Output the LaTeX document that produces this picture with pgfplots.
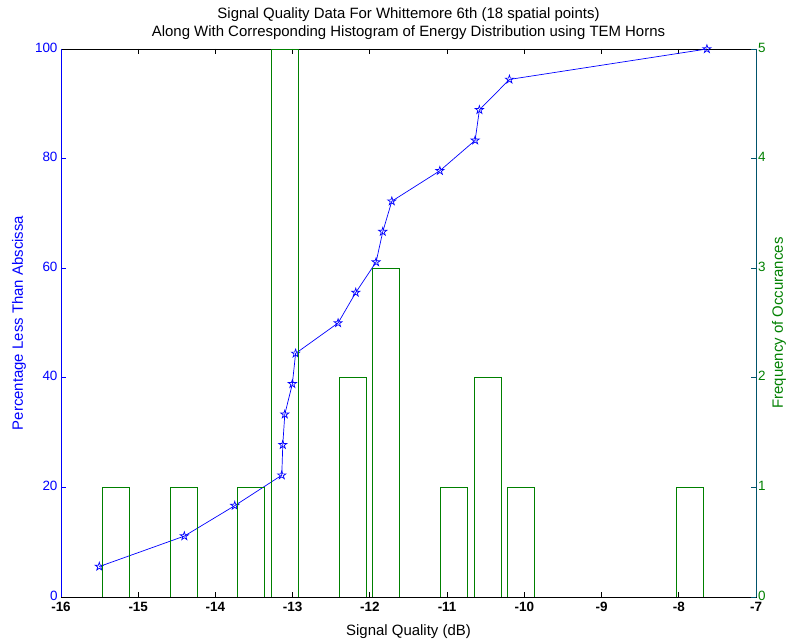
\documentclass[border=0pt]{standalone}
\usepackage{pgfplots}
\pgfplotsset{compat=1.18}
\usepackage{fontspec}
\setmainfont{Liberation Sans}
\definecolor{mblue}{rgb}{0,0,1}
\definecolor{mgreen}{rgb}{0,0.5,0}
\definecolor{mteal}{rgb}{0,0.33,0.42}
\pgfdeclareplotmark{pentagram}{%
  \pgfpathmoveto{\pgfpointpolar{90}{\pgfplotmarksize}}%
  \pgfpathlineto{\pgfpointpolar{126}{0.382*\pgfplotmarksize}}%
  \pgfpathlineto{\pgfpointpolar{162}{\pgfplotmarksize}}%
  \pgfpathlineto{\pgfpointpolar{198}{0.382*\pgfplotmarksize}}%
  \pgfpathlineto{\pgfpointpolar{234}{\pgfplotmarksize}}%
  \pgfpathlineto{\pgfpointpolar{270}{0.382*\pgfplotmarksize}}%
  \pgfpathlineto{\pgfpointpolar{306}{\pgfplotmarksize}}%
  \pgfpathlineto{\pgfpointpolar{342}{0.382*\pgfplotmarksize}}%
  \pgfpathlineto{\pgfpointpolar{18}{\pgfplotmarksize}}%
  \pgfpathlineto{\pgfpointpolar{54}{0.382*\pgfplotmarksize}}%
  \pgfpathclose
  \pgfusepathqstroke
}
\begin{document}
\begin{tikzpicture}
\pgfplotsset{
  every axis/.append style={
    scale only axis, width=695bp, height=548bp,
    xmin=-16, xmax=-7,
    tick align=inside, major tick length=5bp,
    /pgf/number format/assume math mode=true,
    tick label style={font=\fontsize{13.5}{16}\selectfont},
    label style={font=\fontsize{15}{18}\selectfont, inner sep=0pt},
    axis line style={line width=0.8bp},
    every tick/.style={line width=0.8bp},
  }
}
\begin{axis}[
  name=ax1,
  ymin=0, ymax=100,
  xtick={-16,-15,...,-7},
  ytick={0,20,...,100},
  xtick pos=both, ytick pos=left,
  axis line style={black},
  xtick style={black},
  ytick style={mblue},
  xticklabel style={font=\fontsize{13.5}{16}\selectfont\bfseries, text=black, yshift=-2bp},
  yticklabel style={text=mblue, yshift=1.5bp},
  clip=false,
  title={Signal Quality Data For Whittemore 6th (18 spatial points)\\Along With Corresponding Histogram of Energy Distribution using TEM Horns},
  title style={at={(rel axis cs:0.5,1)}, anchor=south, inner sep=0pt, yshift=3bp, align=center, font=\fontsize{15}{18}\selectfont},
  xlabel={Signal Quality (dB)},
  xlabel style={at={(rel axis cs:0.5,0)}, anchor=base, yshift=-38bp},
  ylabel={Percentage Less Than Abscissa},
  ylabel style={at={(axis description cs:-0.0547,0.5)}, anchor=base, text=mblue},
]
\addplot[mblue, line width=0.7bp, mark=pentagram, mark size=4.3bp, mark options={solid, line width=0.7bp}] coordinates {
(-15.504,5.5556) (-14.403,11.1111) (-13.750,16.6667) (-13.141,22.2222)
(-13.128,27.7778) (-13.102,33.3333) (-13.004,38.8889) (-12.962,44.4444)
(-12.412,50.0000) (-12.183,55.5556) (-11.920,61.1111) (-11.833,66.6667)
(-11.716,72.2222) (-11.094,77.7778) (-10.637,83.3333) (-10.582,88.8889)
(-10.193,94.4444) (-7.636,100.0000)
};
\draw[mblue, line width=0.8bp] (rel axis cs:0,0) -- (rel axis cs:0,1);
\end{axis}
\begin{axis}[
  name=ax2,
  ymin=0, ymax=5,
  axis x line=none, axis y line*=right,
  ytick={0,1,...,5},
  y axis line style={mteal},
  ytick style={mteal},
  yticklabel style={text=mgreen, xshift=-1.5bp, yshift=1.5bp},
  ylabel={Frequency of Occurances},
  ylabel style={at={(axis description cs:1.0388,0.5)}, anchor=base, text=mgreen},
]
\addplot[ybar, bar width=0.35, bar shift=0pt, draw=mgreen, fill=none, line width=0.8bp] coordinates {
(-15.285,1) (-14.411,1) (-13.537,1) (-13.100,5) (-12.226,2)
(-11.789,3) (-10.915,1) (-10.478,2) (-10.041,1) (-7.856,1)
};
\end{axis}
\pgfresetboundingbox
\path ([shift={(-61bp,-45bp)}]ax1.south west) rectangle ([shift={(32bp,49bp)}]ax1.north east);
\end{tikzpicture}
\end{document}
